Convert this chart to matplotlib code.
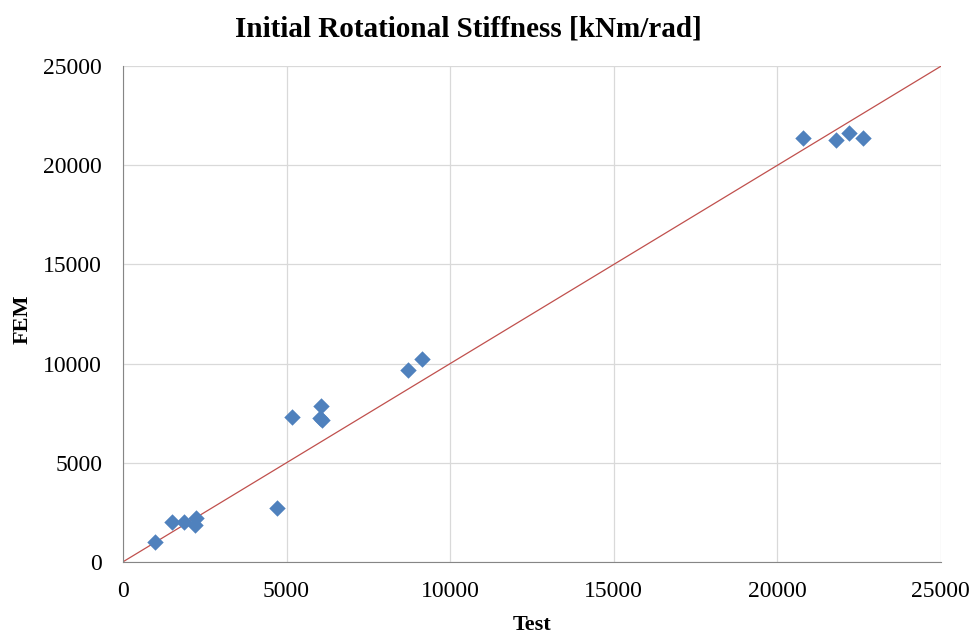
import matplotlib
matplotlib.use("Agg")
import matplotlib.pyplot as plt
import numpy as np

test = [980, 1500, 1860, 2230, 2200, 4710, 5160, 6040, 6070, 6020, 8700, 9150,
        20790, 21790, 22200, 22630]
fem = [1000, 2020, 2020, 2200, 1870, 2720, 7290, 7880, 7160, 7250, 9680, 10230,
       21360, 21300, 21640, 21400]
ticks = [0, 5000, 10000, 15000, 20000, 25000]

plt.rcParams['font.family'] = ['Liberation Serif', 'DejaVu Serif']
fig = plt.figure(figsize=(9.76, 6.37), dpi=100)
ax = fig.add_axes([0.126, 0.118, 0.838, 0.778])
ax.plot([0, 25000], [0, 25000], color='#C0504D', lw=0.9, zorder=2)
ax.scatter(test, fem, marker='D', s=70, color='#4F81BD', zorder=3, linewidths=0)
ax.set_xlim(0, 25000)
ax.set_ylim(0, 25000)
ax.set_xticks(ticks)
ax.set_yticks(ticks)
ax.grid(True, color='#D9D9D9', lw=0.9)
ax.set_axisbelow(True)
for s in ['top', 'right']:
    ax.spines[s].set_visible(False)
for s in ['left', 'bottom']:
    ax.spines[s].set_color('#868686')
ax.tick_params(length=0, labelsize=17)
ax.tick_params(axis='y', pad=15)
ax.tick_params(axis='x', pad=14)
ax.set_xlabel('Test', fontsize=16, fontweight='bold')
ax.xaxis.set_label_coords(0.5, -0.107)
ax.set_ylabel('FEM', fontsize=16, fontweight='bold')
ax.yaxis.set_label_coords(-0.111, 0.49)
fig.text(468 / 976, 1 - 36 / 637, 'Initial Rotational Stiffness [kNm/rad]',
         fontsize=21, fontweight='bold', ha='center', va='baseline')
fig.savefig('out.png', dpi=100)
